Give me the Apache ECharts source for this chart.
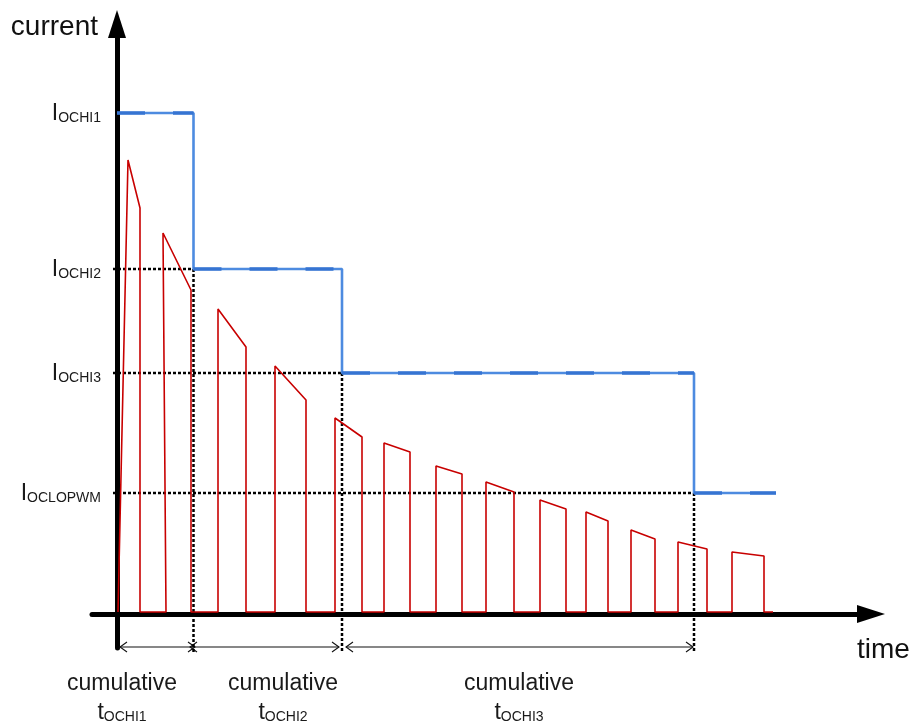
<!DOCTYPE html>
<html><head><meta charset="utf-8">
<script src="https://cdn.jsdelivr.net/npm/echarts@6/dist/echarts.min.js"></script>
<style>html,body{margin:0;padding:0;background:#fff}#c{width:913px;height:723px}</style>
</head><body><div id="c"></div>
<script>
// ---- data (time and current in arbitrary units measured from the origin) ----
const riseBaseT  = [1, 49, 101, 158, 218, 267, 319, 369, 423, 469, 514, 561, 615];
const riseTopT   = [11, 46, 101, 158, 218, 267, 319, 369, 423, 469, 514, 561, 615];
const fallT      = [23, 74, 129, 189, 245, 293, 345, 397, 449, 491, 538, 590, 647];
const peakStartI = [454, 381, 305, 248, 196, 171, 148, 132, 114, 102, 84, 72, 62];
const peakEndI   = [406, 324, 267, 214, 177, 162, 140, 122, 105, 93, 75, 65, 58];
const offLevelI  = 2;
const waveEndT   = 656;

const limitSubs   = ['OCHI1', 'OCHI2', 'OCHI3', 'OCLOPWM'];
const limitLevels = [501, 345, 241, 121];
const limitEndT   = [76.5, 225, 577, 659];

const periodSubs   = ['OCHI1', 'OCHI2', 'OCHI3'];
const periodLabelT = [5, 166, 402];
const spanStartT   = [3, 73, 229];
const spanEndT     = [78, 222, 576];
const spanArrowI   = -33;
const guideStartT  = -4;
const guideBottomI = -38;

// ---- build series data ----
const BRK = ['-', '-'];
const wave = [];
for (let i = 0; i < riseBaseT.length; i++) {
  wave.push([riseBaseT[i], offLevelI], [riseTopT[i], peakStartI[i]],
            [fallT[i], peakEndI[i]], [fallT[i], offLevelI]);
}
wave.push([waveEndT, offLevelI]);

const limitLine = [[0, limitLevels[0]]];
const limitDash = [];
for (let i = 0; i < limitLevels.length; i++) {
  const st = i === 0 ? 0 : limitEndT[i - 1];
  limitLine.push([limitEndT[i], limitLevels[i]]);
  if (i < limitLevels.length - 1) limitLine.push([limitEndT[i], limitLevels[i + 1]]);
  limitDash.push([st, limitLevels[i]], [limitEndT[i], limitLevels[i]], BRK);
}

const guides = [];
for (let i = 1; i < limitLevels.length; i++) {
  const t = limitEndT[i - 1];
  guides.push([guideStartT, limitLevels[i]], [t, limitLevels[i]], BRK);
  guides.push([t, limitLevels[i]], [t, guideBottomI], BRK);
}
const spans = spanStartT.map((s, i) => [s, spanEndT[i], spanArrowI]);

const FONT = 'Liberation Sans, Arial, sans-serif';
const TXT = '#1a1a1a';

function renderSpan(params, api) {
  const a = api.coord([api.value(0), api.value(2)]);
  const b = api.coord([api.value(1), api.value(2)]);
  const L = 7, H = 5;
  const st = {stroke: '#111', lineWidth: 1.1, fill: null};
  return {
    type: 'group',
    children: [
      {type: 'line', shape: {x1: a[0], y1: a[1], x2: b[0], y2: b[1]}, style: st},
      {type: 'polyline', shape: {points: [[a[0] + L, a[1] - H], [a[0], a[1]], [a[0] + L, a[1] + H]]}, style: st},
      {type: 'polyline', shape: {points: [[b[0] - L, b[1] - H], [b[0], b[1]], [b[0] - L, b[1] + H]]}, style: st}
    ]
  };
}

const chart = echarts.init(document.getElementById('c'), null, {renderer: 'canvas'});
chart.setOption({
  animation: false,
  backgroundColor: '#fff',
  grid: {left: 92, right: 42, top: 24, bottom: 75, containLabel: false, outerBoundsMode: 'none'},
  xAxis: {
    type: 'value', min: -25, max: 754,
    name: 'time', nameLocation: 'end', nameGap: -14,
    nameTextStyle: {fontFamily: FONT, fontSize: 28, color: '#111', align: 'left', verticalAlign: 'top', lineHeight: 28, padding: [22, 0, 0, 0]},
    axisLine: {show: true, onZero: true, symbol: ['none', 'triangle'], symbolSize: [18, 28],
      lineStyle: {color: '#000', width: 5, cap: 'round'}},
    axisTick: {show: false},
    splitLine: {show: false},
    axisLabel: {
      customValues: periodLabelT, margin: 22, interval: 0,
      formatter: function (v) {
        const k = periodLabelT.indexOf(v);
        return '{c|cumulative}\n{t|t}{s|' + periodSubs[k] + '}';
      },
      rich: {
        c: {fontFamily: FONT, fontSize: 23, lineHeight: 27, color: TXT, align: 'center'},
        t: {fontFamily: FONT, fontSize: 23, lineHeight: 27, color: TXT, verticalAlign: 'bottom'},
        s: {fontFamily: FONT, fontSize: 14, lineHeight: 21, color: TXT, verticalAlign: 'bottom'}
      }
    }
  },
  yAxis: {
    type: 'value', min: -34, max: 590,
    name: 'current', nameLocation: 'end', nameGap: -3,
    nameTextStyle: {fontFamily: FONT, fontSize: 28, color: '#111', align: 'right', verticalAlign: 'middle', lineHeight: 28, padding: [0, 19, 0, 0]},
    axisLine: {show: true, onZero: true, symbol: ['none', 'triangle'], symbolSize: [18, 28],
      lineStyle: {color: '#000', width: 5, cap: 'round'}},
    axisTick: {show: false},
    splitLine: {show: false},
    axisLabel: {
      customValues: limitLevels, margin: -9,
      formatter: function (v) {
        const k = limitLevels.indexOf(v);
        return '{i|I}{s|' + limitSubs[k] + '}';
      },
      rich: {
        i: {fontFamily: FONT, fontSize: 23, lineHeight: 24, color: TXT, verticalAlign: 'bottom'},
        s: {fontFamily: FONT, fontSize: 14, lineHeight: 18, color: TXT, verticalAlign: 'bottom'}
      }
    }
  },
  series: [
    {
      type: 'line', name: 'guides', data: guides, symbol: 'none', clip: false, z: 2, silent: true,
      lineStyle: {color: '#000', width: 2.5, type: [3, 2]}
    },
    {
      type: 'custom', name: 'spans', data: spans, renderItem: renderSpan, clip: false, z: 2, silent: true
    },
    {
      type: 'line', name: 'current', data: wave, symbol: 'none', z: 3, silent: true,
      lineStyle: {color: '#c80000', width: 1.6}
    },
    {
      type: 'line', name: 'limit', data: limitLine, symbol: 'none', z: 4, silent: true,
      lineStyle: {color: '#4d8be0', width: 2.6}
    },
    {
      type: 'line', name: 'limitDash', data: limitDash, symbol: 'none', z: 5, silent: true,
      lineStyle: {color: '#3674d2', width: 3.4, type: [28, 28], cap: 'butt'}
    }
  ]
});
</script>
</body></html>
